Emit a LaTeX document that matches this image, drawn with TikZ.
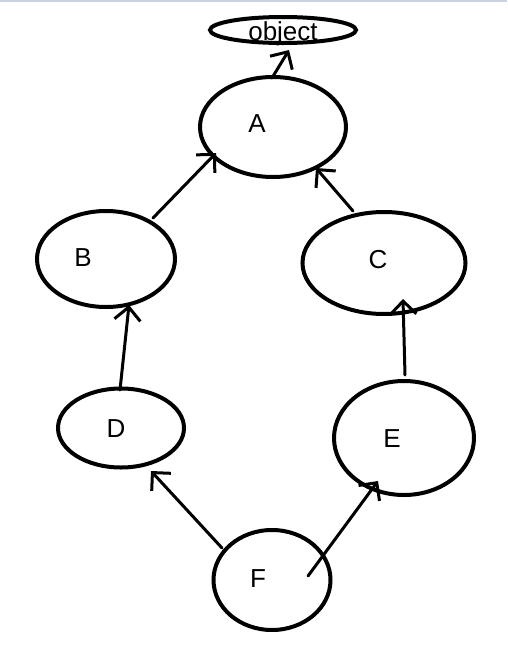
\documentclass[tikz,border=0pt]{standalone}
\usepackage{fontspec}
\setmainfont{Liberation Sans}
\usetikzlibrary{arrows.meta,shapes.geometric}
\definecolor{topbar}{RGB}{200,210,225}
\begin{document}
\begin{tikzpicture}[x=1pt,y=-1pt,
  oval/.style={draw,line width=4pt,ellipse,inner sep=0pt},
  lbl/.style={font=\fontsize{26}{30}\selectfont,anchor=base,inner sep=0pt},
  con/.style={line width=3pt,line cap=round,-{Straight Barb[length=13pt,width=26pt,line width=3pt]}}]
\useasboundingbox (0,0) rectangle (507,657);
\fill[topbar] (0,0) rectangle (507,2);
\node[oval,minimum width=146pt,minimum height=26pt] (obj) at (283,30) {};
\node[oval,minimum width=146pt,minimum height=100pt] (A) at (273,127) {};
\node[oval,minimum width=138pt,minimum height=96pt] (B) at (106,259) {};
\node[oval,minimum width=163pt,minimum height=102pt] (C) at (384,263) {};
\node[oval,minimum width=126pt,minimum height=79pt] (D) at (121,428) {};
\node[oval,minimum width=140pt,minimum height=114pt] (E) at (404,438) {};
\node[oval,minimum width=117pt,minimum height=100pt] (F) at (272,580) {};
\node[lbl] (tobj) at (283,40) {object};
\node[lbl] (tA) at (257,132) {A};
\node[lbl] (tB) at (83,266) {B};
\node[lbl] (tC) at (378,268) {C};
\node[lbl] (tD) at (116,437) {D};
\node[lbl] (tE) at (392,447) {E};
\node[lbl] (tF) at (258,587) {F};
\coordinate (a0) at (272,78);  \coordinate (a1) at (289,50);
\coordinate (b0) at (153,218); \coordinate (b1) at (216,153);
\coordinate (c0) at (353,211); \coordinate (c1) at (316,168);
\coordinate (d0) at (120,390); \coordinate (d1) at (129,305);
\coordinate (e0) at (405,375); \coordinate (e1) at (403,299);
\coordinate (f0) at (222,548); \coordinate (f1) at (151,471);
\coordinate (g0) at (308,576); \coordinate (g1) at (378,481);
\draw[con] (a0) -- (a1);
\draw[con] (b0) -- (b1);
\draw[con] (c0) -- (c1);
\draw[con] (d0) -- (d1);
\draw[con] (e0) -- (e1);
\draw[con] (f0) -- (f1);
\draw[con] (g0) -- (g1);
\end{tikzpicture}
\end{document}
